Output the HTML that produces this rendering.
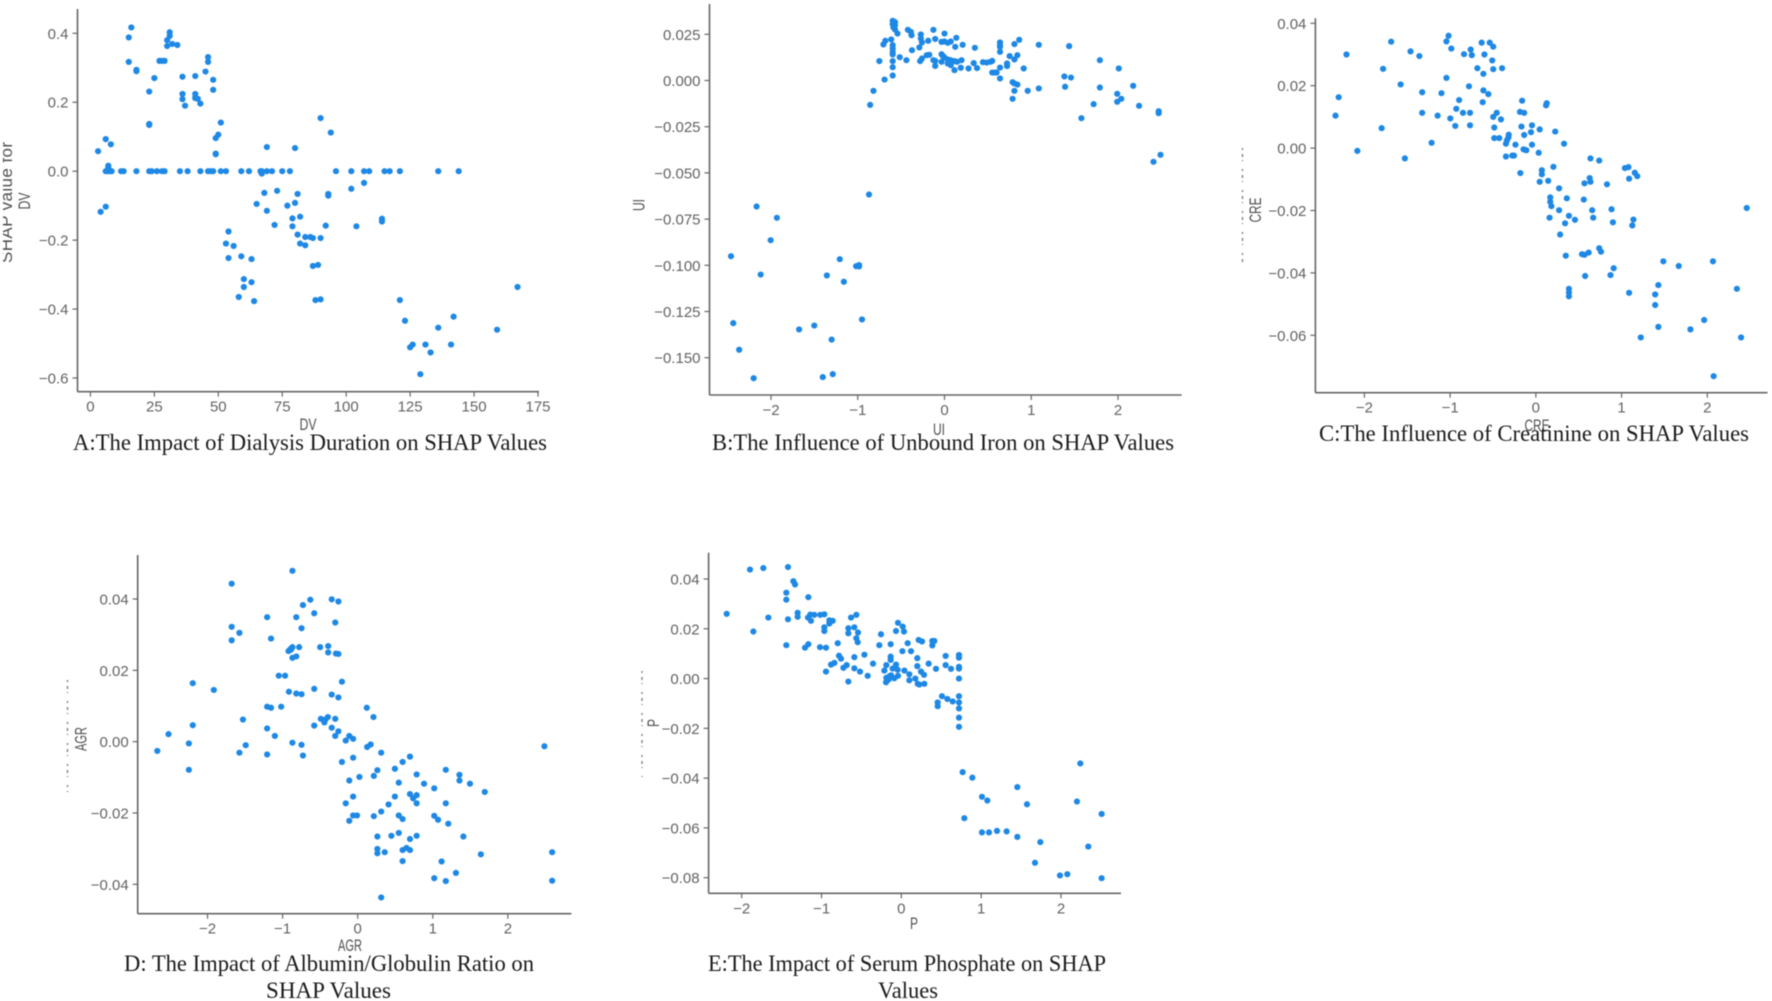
<!DOCTYPE html>
<html lang="en">
<head>
<meta charset="utf-8">
<title>SHAP dependence plots</title>
<style>
html,body{margin:0;padding:0;background:#fff;width:1772px;height:1001px;overflow:hidden}
svg{display:block;filter:blur(.45px)}
.tick{font-family:"Liberation Sans",sans-serif;font-size:15px;fill:#636363}
.axl{font-family:"Liberation Sans",sans-serif;font-size:17px;fill:#505050}
.cap{font-family:"Liberation Serif",serif;font-size:23px;fill:#1a1a1a}
</style>
</head>
<body>
<svg id="fig" width="1772" height="1001" viewBox="0 0 1772 1001" xmlns="http://www.w3.org/2000/svg">
<defs><clipPath id="leftClip"><rect x="3" y="0" width="400" height="1001"/></clipPath></defs>
<rect width="1772" height="1001" fill="#fff"/>
<text class="cap" x="73" y="450" textLength="474" lengthAdjust="spacingAndGlyphs">A:The Impact of Dialysis Duration on SHAP Values</text>
<text class="cap" x="712" y="450" textLength="462" lengthAdjust="spacingAndGlyphs">B:The Influence of Unbound Iron on SHAP Values</text>
<text class="cap" x="1319" y="441" textLength="430" lengthAdjust="spacingAndGlyphs">C:The Influence of Creatinine on SHAP Values</text>
<text class="cap" x="124" y="971" textLength="410" lengthAdjust="spacingAndGlyphs">D: The Impact of Albumin/Globulin Ratio on</text>
<text class="cap" x="266" y="998" textLength="125" lengthAdjust="spacingAndGlyphs">SHAP Values</text>
<text class="cap" x="708" y="971" textLength="398" lengthAdjust="spacingAndGlyphs">E:The Impact of Serum Phosphate on SHAP</text>
<text class="cap" x="878" y="998" textLength="60" lengthAdjust="spacingAndGlyphs">Values</text>
<g clip-path="url(#leftClip)"><text class="axl" transform="translate(12,263) rotate(-90)" textLength="121" lengthAdjust="spacing" style="font-size:17px">SHAP value for</text></g>
<line x1="1242.5" y1="148" x2="1242.5" y2="265" stroke="#777" stroke-width="1.3" stroke-dasharray="2 4 3 3 1 8"/>
<line x1="67.5" y1="680" x2="67.5" y2="792" stroke="#777" stroke-width="1.3" stroke-dasharray="2 4 3 3 1 8"/>
<line x1="642" y1="671" x2="642" y2="777" stroke="#777" stroke-width="1.3" stroke-dasharray="2 4 3 3 1 8"/>
</svg>
<script>
const aXTicks=[0,25,50,75,100,125,150,175];
const aYTicks=[0.4,0.2,0,-0.2,-0.4,-0.6];
const aPoints=[[16,.417],[15,.388],[15,.317],[18,.294],[18,.29],[23,.231],[25,.27],[23,.137],[23,.134],[27,.32],[28,.32],[29,.32],[30,.363],[30,.38],[31,.392],[31,.403],[32,.369],[34,.366],[36,.274],[36,.224],[36,.209],[37,.19],[41,.276],[41,.224],[41,.212],[42,.21],[43,.196],[41,.213],[45,.289],[46,.331],[46,.317],[48,.265],[48,.236],[51,.141],[50,.106],[49,.096],[49,.051],[49,.049],[6,.093],[8,.078],[3,.058],[7,.016],[7,.009],[6,-.103],[4,-.118],[69,.07],[80,.067],[90,.154],[94,.112],
[6,0],[6.5,0],[7,0],[8,0],[8.3,0],[12,0],[13,0],[18,0],[23,0],[24,0],[26,0],[28,0],[29,0],[35,0],[38,0],[43,0],[46,0],[47,0],[48,0],[51,0],[53,0],[59,0],[62,0],[66.5,0],[67,0],[69,0],[71,0],[75,0],[78,0],[96,0],[102,0],[107,0],[109,0],[115,0],[117,0],[121,0],[136,0],[144,0],
[67,-.007],[68,-.063],[73,-.057],[77,-.1],[80,-.092],[81,-.066],[65,-.095],[69,-.115],[72,-.156],[79,-.137],[79,-.16],[82,-.132],[81,-.184],[82,-.21],[84,-.215],[84,-.191],[86,-.191],[87,-.194],[90,-.194],[92,-.158],[93,-.066],[93,-.071],[102,-.051],[107,-.034],[104,-.16],[114,-.138],[114,-.146],
[54,-.175],[53,-.21],[56,-.217],[54,-.252],[59,-.247],[63,-.255],[60,-.313],[60,-.336],[63,-.322],[58,-.365],[64,-.377],[87,-.275],[89,-.272],[88,-.374],[90,-.372],[121,-.374],[123,-.434],[142,-.422],[136,-.454],[159,-.46],[167,-.336],[125,-.511],[126,-.503],[131,-.503],[141,-.503],[133,-.526],[129,-.589]];

const bXTicks=[-2,-1,0,1,2];
const bYTicks=[0.025,0,-0.025,-0.05,-0.075,-0.1,-0.125,-0.15];
const bPoints=[[-.597,.0323],[-.571,.0316],[-.597,.0305],[-.571,.0299],[-.588,.0287],[-.571,.0276],[-.542,.0254],[-.614,.0222],[-.597,.0191],[-.597,.0173],[-.597,.0155],[-.597,.0141],[-.597,.0105],[-.597,.0072],[-.597,.0027],[-.691,.0005],[-.751,.0105],[-.682,.0215],[-.704,.0195],[-.516,.0126],[-.439,.011],[-.422,.0274],[-.388,.0263],[-.38,.0245],[-.375,.0164],[-.29,.0179],[-.273,.0249],[-.273,.0227],[-.26,.0206],[-.188,.0215],[-.128,.0274],[-.107,.0225],[0,.0254],[-.034,.0209],[0,.0211],[.038,.0204],[.072,.0211],[.136,.0231],[.124,.0182],[.209,.0193],[.35,.0177],[-.281,.0105],[-.26,.0119],[-.205,.0137],[-.175,.0139],[-.107,.0106],[-.107,.0079],[-.128,.011],[-.034,.0142],[-.017,.0132],[-.034,.0101],[0,.0124],[.038,.0114],[.072,.011],[.038,.0092],[.072,.0083],[.115,.0056],[.115,.0105],[.145,.0101],[.196,.011],[.188,.0069],[.277,.0065],[.337,.0094],[.375,.0067],[.443,.0099],[.486,.0097],[.529,.0101],[.55,.0106],[.55,.0043],[.58,.0043],[.601,.0043],[.64,.0011],[.64,.007],[.64,.0155],[.64,.0206],[.64,.0191],[.64,.0182],[.721,.0092],[.721,.0078],[.751,.0132],[.806,.0114],[.84,.0137],[.806,.0197],[.861,.022],[.913,.0065],[.785,-.0009],[.806,-.0016],[.84,-.0022],[.806,-.0056],[.785,-.0099],[.959,-.0056],[1.087,.0193],[1.087,-.0043],[1.382,.0022],[1.458,.0016],[1.437,.0186],[1.39,-.0034],[1.791,.011],[1.791,-.0038],[2.009,.0065],[2.175,-.0029],[1.991,-.0072],[1.991,-.0115],[2.038,-.0099],[1.719,-.0128],[1.578,-.0204],[2.243,-.0137],[2.469,-.0166],[2.469,-.0177],[2.49,-.0402],[2.409,-.044],[-.819,-.0056],[-.857,-.0132],[-.87,-.0617],[-2.166,-.0682],[-1.932,-.0743],[-2.004,-.0864],[-2.461,-.0951],[-2.119,-.105],[-2.435,-.1313],[-2.367,-.1457],[-2.2,-.1611],[-1.676,-.1347],[-1.501,-.1326],[-1.301,-.1402],[-1.403,-.1605],[-1.288,-.1589],[-.951,-.1293],[-1.207,-.0967],[-1.356,-.1055],[-1.16,-.1089],[-1.019,-.1005],[-.985,-.0999],[-.985,-.1006]];

const cXTicks=[-2,-1,0,1,2];
const cYTicks=[0.04,0.02,0,-0.02,-0.04,-0.06];
const cPoints=[[-1.018,.036],[-1.043,.0342],[-.986,.0319],[-1.688,.0341],[-2.209,.03],[-1.462,.031],[-1.359,.0295],[-.838,.0301],[-.76,.0316],[-.747,.0298],[-.632,.0338],[-.538,.0338],[-.497,.0325],[-.6,.03],[-.509,.0281],[-.682,.0256],[-.497,.0253],[-.394,.0256],[-.612,.0238],[-1.782,.0254],[-1.043,.0225],[-1.577,.0204],[-.78,.0198],[-.612,.0185],[-.554,.0173],[-1.326,.0179],[-1.101,.0176],[-2.3,.0163],[-2.337,.0104],[-.895,.0154],[-.62,.0147],[-.928,.0126],[-1.326,.0113],[-.85,.0113],[-.768,.0113],[-1.146,.0104],[-.998,.0095],[-.94,.0071],[-.768,.0073],[-1.799,.0064],[-.456,.0113],[-.497,.01],[-.407,.0092],[-.485,.0066],[-.485,.0032],[-.427,.0032],[-1.216,.0017],[-2.082,-.0009],[-1.528,-.0033],[-.316,.0043],[-.32,.0034],[-.337,.0025],[-.349,.0014],[-.238,.0011],[-.349,-.0027],[-.275,-.0024],[-.255,-.0024],[-.16,.0152],[-.185,.0116],[-.136,.0113],[-.168,.0069],[-.136,.0042],[-.045,.0073],[-.057,.0051],[-.045,.0011],[-.144,-.0004],[-.111,-.0007],[-.181,-.008],[.045,.006],[.119,.0137],[.127,.0144],[.226,.0053],[.329,.0014],[.033,-.0015],[.07,-.0071],[.07,-.0084],[.045,-.0108],[.144,-.0105],[.205,-.006],[.271,-.0129],[.168,-.0158],[.168,-.0172],[.181,-.0186],[.16,-.0223],[.271,-.0199],[.361,-.0161],[.386,-.0217],[.341,-.0241],[.456,-.023],[.283,-.0277],[.349,-.0345],[.637,-.0033],[.739,-.004],[.567,-.0113],[.628,-.0096],[.637,-.0108],[.559,-.0165],[.657,-.0199],[.669,-.0223],[.538,-.034],[.567,-.0342],[.616,-.0335],[.739,-.0321],[.76,-.0332],[.83,-.0116],[.883,-.0196],[.899,-.0238],[.908,-.0385],[.871,-.0407],[.575,-.041],[.386,-.0451],[.386,-.0463],[.386,-.0475],[1.039,-.0064],[1.08,-.0061],[1.088,-.0098],[1.154,-.0079],[1.183,-.009],[1.138,-.0229],[1.125,-.0248],[1.088,-.0464],[1.224,-.0607],[1.392,-.0469],[1.429,-.0439],[1.392,-.0503],[1.429,-.0573],[1.487,-.0363],[1.667,-.0378],[2.066,-.0363],[1.963,-.0551],[1.803,-.0581],[2.345,-.0451],[2.394,-.0607],[2.074,-.0731],[2.46,-.0192]];

const dXTicks=[-2,-1,0,1,2];
const dYTicks=[0.04,0.02,0,-0.02,-0.04];
const dPoints=[[-.869,.0479],[-1.678,.0443],[-.631,.0398],[-.346,.0399],[-.257,.0393],[-.729,.0383],[-.579,.036],[-1.206,.0349],[-.818,.0349],[-.299,.0334],[-1.678,.0322],[-.748,.0318],[-1.575,.0305],[-1.678,.0284],[-1.154,.0289],[-.5,.0265],[-.393,.0268],[-.78,.0265],[-.869,.0265],[-.883,.0262],[-.902,.0258],[-.921,.0254],[-.888,.0258],[-.393,.025],[-.29,.0247],[-.257,.0246],[-.818,.0239],[-.869,.0235],[-1.051,.0185],[-.967,.0185],[-2.196,.0164],[-.21,.0168],[-1.916,.0145],[-.579,.0148],[-.916,.014],[-.818,.0135],[-.748,.0133],[-.346,.0132],[-.257,.0124],[-1.206,.0098],[-1.154,.0095],[-1.019,.0098],[.121,.0095],[.21,.0069],[-1.528,.0062],[-.491,.0064],[-.397,.0069],[-.299,.0064],[-.444,.0054],[-.43,.0062],[-2.196,.0046],[-.579,.0045],[-.346,.0039],[-1.206,.0037],[-.257,.0029],[-2.519,.0021],[-1.103,.0016],[-.299,.0016],[-.112,.0016],[-.061,.0008],[-.159,.0003],[-.869,-.0003],[-2.248,-.0005],[-.748,-.0009],[-1.491,-.001],[.173,-.0008],[.126,-.0015],[-2.668,-.0026],[-1.575,-.0031],[-1.206,-.0036],[-.729,-.0039],[.313,-.0031],[-.061,-.0045],[-.21,-.0057],[.696,-.0042],[.598,-.0057],[-2.248,-.0079],[.262,-.008],[.495,-.0076],[1.173,-.0079],[.785,-.0092],[.215,-.0096],[.023,-.0099],[1.355,-.0093],[1.355,-.0109],[-.112,-.0109],[.547,-.0115],[.883,-.0118],[1.495,-.0118],[1.019,-.0131],[1.692,-.0141],[.696,-.0147],[.785,-.015],[.738,-.0159],[.495,-.0154],[-.061,-.0154],[.785,-.0173],[.411,-.0176],[-.159,-.0173],[1.173,-.0173],[.313,-.0196],[-.061,-.0207],[-.009,-.0207],[.215,-.0209],[.547,-.0207],[.598,-.0217],[-.112,-.0222],[1.019,-.0208],[1.07,-.0219],[1.206,-.023],[.262,-.0266],[.449,-.0264],[.547,-.0256],[.785,-.0264],[.696,-.0273],[1.407,-.0266],[.262,-.0301],[.262,-.0313],[.36,-.031],[.598,-.0304],[.65,-.0298],[.696,-.0304],[1.64,-.0316],[2.589,-.031],[.598,-.0335],[1.117,-.0336],[1.308,-.0368],[1.019,-.0383],[1.173,-.0391],[2.589,-.039],[.313,-.0437],[2.486,-.0013]];

const eXTicks=[-2,-1,0,1,2];
const eYTicks=[0.04,0.02,0,-0.02,-0.04,-0.06,-0.08];
const ePoints=[[-1.42,.0448],[-1.729,.0444],[-1.896,.0438],[-1.353,.0391],[-1.332,.0378],[-1.441,.0345],[-1.441,.0317],[-1.165,.0327],[-2.188,.026],[-1.299,.0264],[-1.299,.0248],[-1.666,.0245],[-1.42,.0238],[-1.854,.0189],[-1.169,.0245],[-1.14,.0257],[-1.132,.0232],[-1.09,.0256],[-1.015,.0256],[-.965,.0258],[-.902,.0234],[-.86,.0232],[-.902,.0221],[-.965,.0206],[-.965,.0191],[-1.441,.0134],[-1.207,.0124],[-1.165,.0138],[-1.019,.0126],[-.944,.0124],[-.797,.0142],[-.63,.0245],[-.564,.0256],[-.664,.0202],[-.664,.0182],[-.589,.0206],[-.543,.0185],[-.564,.0162],[-.547,.0146],[-.781,.0092],[-.756,.008],[-.944,.0028],[-.881,.0056],[-.839,.0063],[-.726,.0043],[-.685,.0054],[-.664,-.0012],[-.589,.0086],[-.589,.0041],[-.518,.0028],[-.463,.0096],[-.422,.0011],[-.355,.006],[-.276,.0134],[-.255,.0178],[-.134,.0138],[-.042,.0224],[.017,.0209],[.033,.0189],[-.067,.0191],[.079,.0142],[.013,.011],[.121,.011],[-.134,.0088],[-.134,.0075],[-.213,.0032],[-.188,.0054],[-.109,.004],[-.067,.0056],[-.046,.0035],[.038,.0032],[-.188,.0003],[-.15,.0009],[-.129,.0013],[-.192,-.0015],[-.159,-.0004],[-.088,.0001],[-.042,.0011],[.1,.0017],[.1,-.0007],[.175,0],[.205,-.0021],[.225,-.0024],[.288,-.0021],[.284,.0015],[.246,.0028],[.2,.005],[.2,.0082],[.217,.0155],[.259,.0149],[.388,.0151],[.413,.0151],[.388,.0133],[.342,.006],[.434,.0039],[.555,.0091],[.555,.0054],[.622,.0039],[.722,.0095],[.722,.0084],[.722,.0047],[.722,.004],[.722,0],[.509,-.0071],[.455,-.0096],[.455,-.0111],[.576,-.0082],[.643,-.0092],[.722,-.0071],[.722,-.0096],[.722,-.012],[.722,-.0157],[.722,-.0194],[.768,-.0376],[.889,-.0398],[.789,-.0561],[1.01,-.0475],[1.077,-.049],[1.01,-.0618],[1.098,-.0618],[1.198,-.0612],[1.319,-.0614],[1.453,-.0636],[1.453,-.0436],[1.574,-.0505],[1.741,-.0657],[1.674,-.074],[1.987,-.0791],[2.079,-.0786],[2.242,-.0341],[2.2,-.0494],[2.342,-.0675],[2.509,-.0544],[2.509,-.0802]];

const NS='http://www.w3.org/2000/svg';
const svg=document.getElementById('fig');
function mk(tag,attrs,txt){
  const el=document.createElementNS(NS,tag);
  for(const k in attrs)el.setAttribute(k,attrs[k]);
  if(txt!==undefined)el.textContent=txt;
  return el;
}
function scale(v0,p0,v1,p1){return v=>p0+(v-v0)*(p1-p0)/(v1-v0);}
function fmt(v,d){return (v<0?'\u2212':'')+Math.abs(v).toFixed(d);}

function panel(id,points,xTicks,yTicks,yDec,box,xS,yS,title,titleLen,xTitlePos,yTitlePos){
  const g=mk('g',{});
  
  
  const yAxis=mk('line',{x1:box.l,y1:box.t,x2:box.l,y2:box.b,stroke:'#666','stroke-width':1.6});
  
  
  g.appendChild(yAxis);
  const xAxis=mk('line',{x1:box.l,y1:box.b,x2:box.r,y2:box.b,stroke:'#666','stroke-width':1.6});
  
  
  g.appendChild(xAxis);
  xTicks.forEach(v=>{
    const px=xS(v);
    const t=mk('line',{x1:px,y1:box.b,x2:px,y2:box.b+5,stroke:'#666','stroke-width':1.2});
    
    
    g.appendChild(t);
    const l=mk('text',{class:'tick',x:px,y:box.b+20,'text-anchor':'middle'},fmt(v,0));
    
    
    g.appendChild(l);
  });
  yTicks.forEach(v=>{
    const py=yS(v);
    const t=mk('line',{x1:box.l-5,y1:py,x2:box.l,y2:py,stroke:'#666','stroke-width':1.2});
    
    
    g.appendChild(t);
    const l=mk('text',{class:'tick',x:box.l-9,y:py+5.5,'text-anchor':'end'},fmt(v,yDec));
    
    
    g.appendChild(l);
  });
  points.forEach(p=>{
    const c=mk('circle',{cx:xS(p[0]),cy:yS(p[1]),r:3.1,fill:'#1e88e5'});
    
    
    g.appendChild(c);
  });
  const xt=mk('text',{class:'axl',x:xTitlePos[0]-titleLen/2,y:xTitlePos[1]+6,textLength:titleLen,lengthAdjust:'spacingAndGlyphs'},title);
  
  
  g.appendChild(xt);
  const yt=mk('text',{class:'axl',x:-titleLen/2,y:0,textLength:titleLen,lengthAdjust:'spacingAndGlyphs',transform:'translate('+(yTitlePos[0]+6)+','+yTitlePos[1]+') rotate(-90)'},title);
  
  
  g.appendChild(yt);
  svg.insertBefore(g,svg.querySelector('text.cap'));
}

panel('a',aPoints,aXTicks,aYTicks,1,{l:77.5,r:539,t:9,b:391.7},
  scale(0,90.4,175,538),scale(0.4,33.3,-0.6,378),'DV',17,[308,424],[24,201]);
panel('b',bPoints,bXTicks,bYTicks,3,{l:709.5,r:1181.6,t:4,b:395},
  scale(-2,771,2,1118),scale(0.025,34.3,-0.15,357.7),'UI',12,[939,429],[638.5,205]);
panel('c',cPoints,cXTicks,cYTicks,2,{l:1315.4,r:1767.5,t:18.3,b:392.7},
  scale(-2,1364.4,2,1707.3),scale(0.04,23.3,-0.06,335.3),'CRE',25,[1537,425],[1255,210]);
panel('d',dPoints,dXTicks,dYTicks,2,{l:137.7,r:571.4,t:555,b:913.7},
  scale(-2,207.5,2,507.9),scale(0.04,599,-0.04,884.3),'AGR',24,[350,945],[80.5,739]);
panel('e',ePoints,eXTicks,eYTicks,2,{l:708.6,r:1121,t:552.7,b:893.3},
  scale(-2,741.7,2,1061),scale(0.04,579,-0.08,877.7),'P',8,[914,923],[653,723]);
</script>
</body>
</html>
